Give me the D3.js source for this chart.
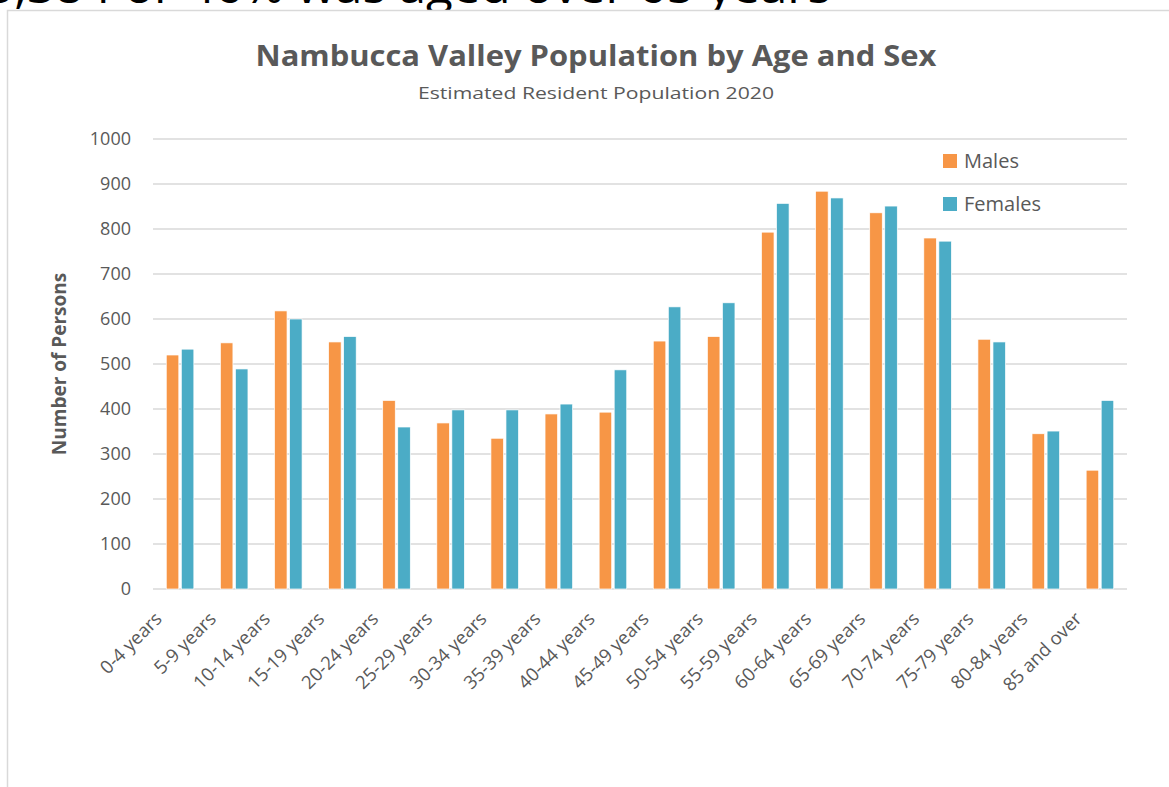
<!DOCTYPE html>
<html>
<head>
<meta charset="utf-8">
<title>Nambucca Valley Population by Age and Sex</title>
<script src="https://d3js.org/d3.v7.min.js"></script>
<style>
  body { margin: 0; background: #fff; }
  text { font-family: "Open Sans", "DejaVu Sans", sans-serif; }
</style>
</head>
<body>
<svg width="1169" height="787"></svg>
<script>
// age groups and counts
var ageGroups = ["0-4 years", "5-9 years", "10-14 years", "15-19 years", "20-24 years",
  "25-29 years", "30-34 years", "35-39 years", "40-44 years", "45-49 years",
  "50-54 years", "55-59 years", "60-64 years", "65-69 years", "70-74 years",
  "75-79 years", "80-84 years", "85 and over"];
var males   = [520, 547, 618, 549, 419, 369, 335, 389, 393, 551, 561, 793, 884, 836, 780, 555, 345, 264];
var females = [533, 489, 600, 561, 360, 398, 398, 411, 487, 627, 636, 857, 869, 851, 773, 549, 351, 419];
var seriesNames = ["Males", "Females"];
var yTicks = [0, 100, 200, 300, 400, 500, 600, 700, 800, 900, 1000];

var colours = { Males: "#F79646", Females: "#4BACC6" };
var grey = "#595959";

var svg = d3.select("svg");

// bit of page text above the chart, cut off by the top edge
svg.append("text")
    .attr("x", -14).attr("y", 3)
    .attr("font-size", 46)
    .attr("fill", "#000")
    .attr("textLength", 845).attr("lengthAdjust", "spacingAndGlyphs")
    .text("5,384 or 46% was aged over 65 years");

// chart frame
svg.append("rect")
    .attr("x", 7.5).attr("y", 10.5)
    .attr("width", 1200).attr("height", 800)
    .attr("fill", "#fff")
    .attr("stroke", "#d9d9d9").attr("stroke-width", 1.5);

var margin = { top: 139, left: 153, right: 42, bottom: 198 };
var width = 1169 - margin.left - margin.right,
    height = 787 - margin.top - margin.bottom;

var g = svg.append("g").attr("transform", "translate(" + margin.left + "," + margin.top + ")");

var x = d3.scaleBand().domain(ageGroups).range([0, width]).padding(0);
var barW = x.bandwidth() * 0.232, barGap = x.bandwidth() * 0.046;
var x1 = d3.scaleOrdinal().domain(seriesNames).range([-barW - barGap / 2, barGap / 2]);
var y = d3.scaleLinear().domain([0, 1000]).range([height, 0]);

// gridlines
g.append("g")
    .selectAll("line")
    .data(yTicks)
    .enter().append("line")
      .attr("x1", 0).attr("x2", width)
      .attr("y1", function(d) { return y(d); })
      .attr("y2", function(d) { return y(d); })
      .attr("stroke", "#d9d9d9").attr("stroke-width", 1.5);

// y axis labels
var yAxis = g.append("g")
    .attr("transform", "translate(-22,0)")
    .call(d3.axisLeft(y).tickValues(yTicks).tickFormat(d3.format("d")).tickSize(0).tickPadding(0));
yAxis.select(".domain").remove();
yAxis.selectAll("text")
    .attr("font-size", 18).attr("fill", grey)
    .style("font-family", "'Open Sans', sans-serif");

// bars
var rows = ageGroups.map(function(a, i) { return { age: a, Males: males[i], Females: females[i] }; });
var grp = g.append("g").selectAll("g")
    .data(rows)
    .enter().append("g")
      .attr("transform", function(d) { return "translate(" + (x(d.age) + x.bandwidth() / 2) + ",0)"; });
grp.selectAll("rect")
    .data(function(d) { return seriesNames.map(function(s) { return { key: s, value: d[s] }; }); })
    .enter().append("rect")
      .attr("x", function(d) { return x1(d.key); })
      .attr("width", barW)
      .attr("y", function(d) { return y(d.value); })
      .attr("height", function(d) { return height - y(d.value); })
      .attr("fill", function(d) { return colours[d.key]; })
      .attr("stroke", "#fff").attr("stroke-width", 0.7);

// x axis labels, rotated
var xAxis = g.append("g")
    .attr("transform", "translate(0," + height + ")")
    .call(d3.axisBottom(x).tickSize(0).tickPadding(0));
xAxis.select(".domain").remove();
xAxis.selectAll("text")
    .attr("font-size", 18.5).attr("fill", grey)
    .style("font-family", "'Open Sans', sans-serif")
    .attr("text-anchor", "end")
    .attr("dy", 0)
    .attr("transform", "translate(-17,31) rotate(-45)");

// titles
svg.append("text")
    .attr("x", 596).attr("y", 66)
    .attr("text-anchor", "middle")
    .attr("font-size", 29).attr("font-weight", "bold").attr("fill", grey)
    .attr("textLength", 681).attr("lengthAdjust", "spacingAndGlyphs")
    .text("Nambucca Valley Population by Age and Sex");
svg.append("text")
    .attr("x", 596).attr("y", 99)
    .attr("text-anchor", "middle")
    .attr("font-size", 17).attr("fill", grey)
    .attr("textLength", 356).attr("lengthAdjust", "spacingAndGlyphs")
    .text("Estimated Resident Population 2020");
svg.append("text")
    .attr("transform", "translate(66,364) rotate(-90)")
    .attr("text-anchor", "middle")
    .attr("font-size", 19).attr("font-weight", "bold").attr("fill", grey)
    .text("Number of Persons");

// legend
var legend = svg.append("g").attr("transform", "translate(943,154)");
var li = legend.selectAll("g")
    .data(seriesNames)
    .enter().append("g")
      .attr("transform", function(d, i) { return "translate(0," + (i * 43) + ")"; });
li.append("rect")
    .attr("width", 14).attr("height", 14)
    .attr("fill", function(d) { return colours[d]; });
li.append("text")
    .attr("x", 21).attr("y", 14)
    .attr("font-size", 20).attr("fill", grey)
    .text(function(d) { return d; });
</script>
</body>
</html>
